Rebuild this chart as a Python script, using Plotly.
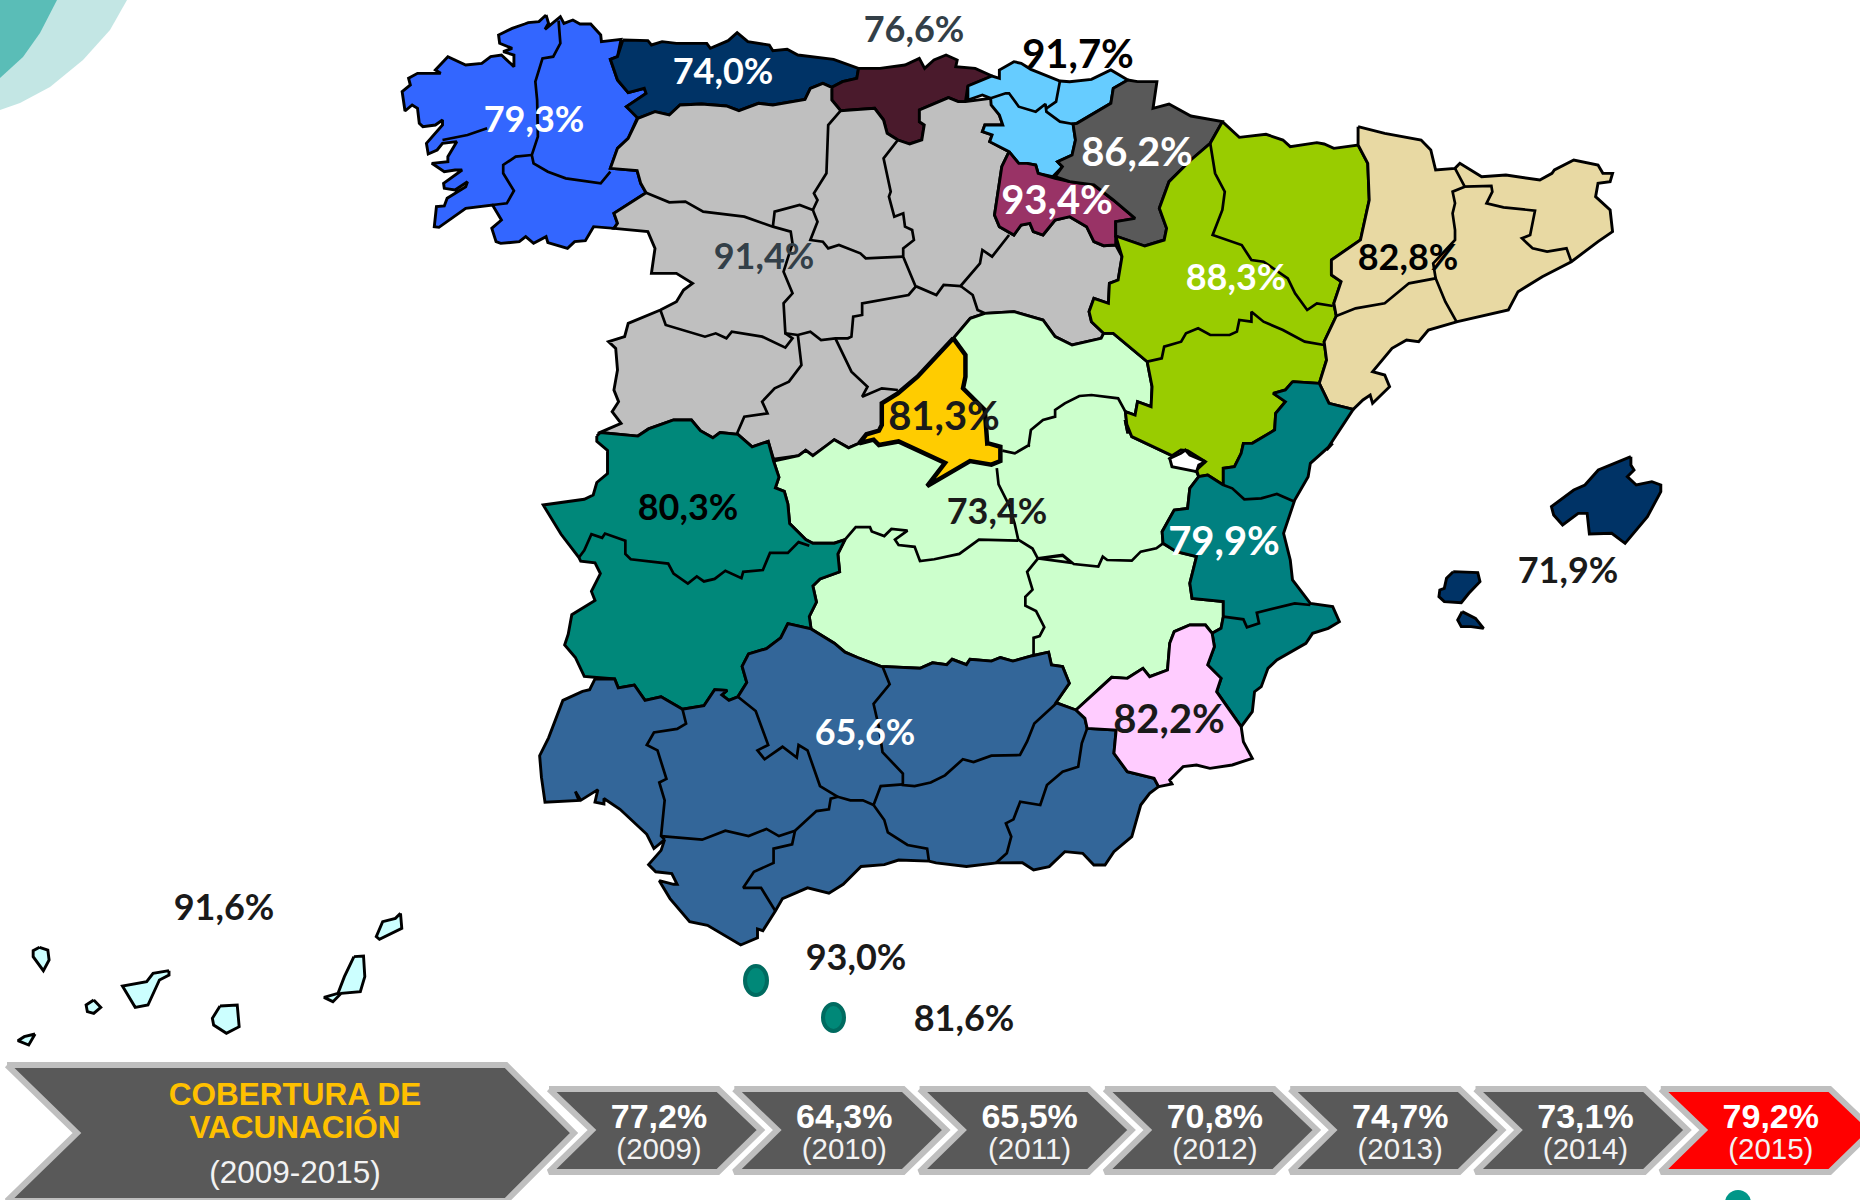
import plotly.graph_objects as go

# ---------- data ----------
YEARS = ["(2009)", "(2010)", "(2011)", "(2012)", "(2013)", "(2014)", "(2015)"]
NATIONAL = ["77,2%", "64,3%", "65,5%", "70,8%", "74,7%", "73,1%", "79,2%"]
REGION_NAMES = ["Galicia", "Asturias", "Cantabria", "País Vasco", "Navarra", "La Rioja", "Aragón", "Cataluña",
                "Castilla y León", "Madrid", "Castilla-La Mancha", "Extremadura", "C. Valenciana", "Baleares",
                "Andalucía", "Murcia", "Canarias", "Ceuta", "Melilla"]
REGION_VALUES = ["79,3%", "74,0%", "76,6%", "91,7%", "86,2%", "93,4%", "88,3%", "82,8%",
                 "91,4%", "81,3%", "73,4%", "80,3%", "79,9%", "71,9%",
                 "65,6%", "82,2%", "91,6%", "93,0%", "81,6%"]
LABEL_X = [534, 723, 914, 1078, 1137, 1057, 1236, 1408, 764, 944, 997, 688, 1224, 1568, 865, 1169, 224, 856, 964]
LABEL_Y = [123, 75, 33, 58, 156, 204, 281, 261, 260, 420, 515, 511, 545, 574, 736, 723, 911, 961, 1022]
LABEL_SIZES = [36, 36, 36, 40, 40, 40, 36, 36, 36, 40, 36, 36, 40, 36, 36, 40, 36, 36, 36]
LABEL_COLORS = ["white", "white", "#333F48", "black", "white", "white", "white", "black",
                "#333F48", "#1a1a1a", "#1a1a1a", "black", "white", "#1a1a1a",
                "white", "#1a1a1a", "#1a1a1a", "#1a1a1a", "#1a1a1a"]

def z1(p): return [(380 + x / 2.8, y / 3) for x, y in p]
def z2(p): return [(900 + x / 2.063, y / 3) for x, y in p]
def z3(p): return [(520 + x / 2.8, 420 + y / 2.8) for x, y in p]
def z4(p): return [(980 + x / 2.24, 420 + y / 3) for x, y in p]
def z5(p): return [(x / 1.568, 880 + y / 3) for x, y in p]

GALICIA = z1([(465,45),(472,70),(462,88),(505,50),(515,70),(540,60),(560,72),(590,72),(618,105),(620,125),(675,118),(665,170),(645,178),(665,240),(695,278),(740,265),(745,280),(690,320),(722,350),(695,415),(665,445),(645,505),(720,512),(730,550),(745,578),(690,615),(655,640),(665,670),(655,685),(598,680),(575,722),(545,725),(525,745),(470,728),(465,710),(430,730),(408,710),(390,725),(338,730),(325,725),(313,685),(340,660),(315,615),(240,625),(165,682),(152,680),(158,620),(180,618),(188,595),(240,560),(245,545),(210,570),(180,565),(178,550),(230,510),(210,510),(180,515),(145,490),(190,485),(190,470),(215,425),(175,430),(160,450),(135,462),(130,430),(175,375),(175,360),(155,375),(120,380),(110,370),(105,325),(90,315),(70,333),(62,275),(85,255),(80,235),(105,220),(170,220),(155,210),(190,170),(240,195),(285,190),(310,170),(340,165),(375,200),(375,165),(345,155),(370,145),(335,130),(332,105),(370,85),(405,72),(415,68),(445,65)])
GALICIA_LINES = [
    z1([(500,62),(505,130),(485,170),(455,175),(435,245),(440,300),(442,410),(425,465),(430,490),(470,515),(520,535),(618,550),(645,515)]),
    z1([(175,420),(245,405),(300,385)]),
    z1([(425,465),(380,470),(345,495),(345,520),(375,572),(355,610),(315,615)]),
]
ASTURIAS = z1([(680,120),(750,122),(760,135),(790,125),(830,130),(915,130),(925,145),(975,122),(1000,98),(1030,125),(1090,135),(1100,152),(1140,148),(1170,165),(1270,178),(1340,205),(1335,235),(1295,245),(1265,262),(1240,250),(1205,265),(1190,298),(1100,315),(1060,310),(1005,332),(970,318),(900,312),(840,315),(810,345),(770,335),(722,355),(690,320),(745,280),(740,265),(695,278),(665,240),(645,178),(665,170)])
CANTABRIA = z1([(1340,205),(1400,205),(1470,195),(1510,175),(1525,205)]) + z2([(70,180),(95,165),(118,180),(115,200),(155,205),(190,228),(140,258),(135,305),(120,305),(100,293),(40,330),(40,365),(50,375),(45,420),(20,432)]) + z1([(1450,420),(1420,400),(1410,360),(1385,325),(1290,332),(1265,300),(1265,262),(1295,245),(1335,235)])
BASQUE = z2([(140,258),(190,228),(205,235),(205,210),(235,185),(250,190),(270,208),(330,243),(350,245),(395,238),(435,210),(470,240),(440,265),(435,310),(400,340),(365,370),(357,372),(362,420),(355,465),(325,485),(335,500),(315,530),(285,520),(280,495),(262,490),(245,490),(225,455),(185,425),(190,405),(170,395),(175,375),(212,375),(205,345),(188,315),(187,295),(170,285),(140,300)])
BASQUE_LINES = [
    z2([(187,295),(218,280),(225,280),(245,320),(280,335),(300,312),(302,335),(330,365),(357,372)]),
    z2([(330,243),(328,260),(322,305),(302,325)]),
]
RIOJA = z2([(225,455),(245,490),(262,490),(280,495),(285,520),(320,535),(350,545),(400,555),(440,600),(485,655),(445,665),(445,735),(420,737),(400,725),(385,680),(350,650),(320,660),(295,705),(275,695),(268,670),(250,675),(235,705),(205,680),(195,645),(210,500)])
NAVARRA = z2([(470,240),(490,245),(530,245),(522,325),(555,312),(600,348),(665,365),(640,430),(600,480),(555,545),(535,625),(550,685),(545,720),(505,738),(445,708),(445,665),(485,655),(440,600),(400,555),(350,545),(320,530),(335,500),(325,485),(355,465),(362,420),(357,372),(365,370),(400,340),(435,310),(440,265)])
ARAGON = z2([(665,365),(700,412),(755,403),(790,420),(805,440),(860,428),(875,432),(895,445),(945,435),(965,490),(968,600),(950,720),(890,780),(890,825),(910,845),(895,910),(900,948),(875,1025),(880,1080),(865,1150),(810,1145),(795,1170),(770,1180),(795,1205),(775,1240)]) + z4([(660,30),(610,70),(590,70),(585,100),(570,140),(545,145),(545,195),(510,165),(490,170),(485,150),(505,125),(465,92),(450,90),(430,107),(340,50),(325,0)]) + z2([(470,1300),(465,1235),(485,1245),(490,1205),(518,1220),(520,1160),(510,1085),(440,1000),(420,1000),(395,965),(390,935),(400,895),(430,910),(432,850),(450,840),(458,770),(445,708),(505,738),(545,720),(550,685),(535,625),(555,545),(600,480),(640,430)])
ARAGON_LINES = [
    z2([(640,430),(650,520),(670,575),(665,630),(645,705),(705,735),(725,780),(750,785),(800,835),(815,880),(840,930),(860,910),(893,918)]),
    z2([(510,1085),(540,1075),(545,1040),(580,1025),(590,1000),(615,985),(640,1005),(680,1005),(695,995),(700,960),(725,965),(725,935),(750,965),(790,990),(835,1025),(875,1035)]),
]
ADEMUZ = z4([(425,115),(450,100),(460,90),(470,105),(505,125),(490,135),(485,155),(430,140)])
CATALONIA = z2([(945,380),(1000,400),(1075,420),(1095,450),(1105,510),(1145,505),(1155,490),(1200,530),(1250,525),(1320,540),(1345,520),(1350,510),(1390,480),(1440,495),(1450,520),(1470,520),(1465,545),(1440,550),(1435,590),(1465,630),(1470,695),(1455,710),(1440,725),(1385,785),(1325,830),(1275,875),(1255,930),(1150,965),(1090,990),(1070,1025),(1045,1020),(1015,1045),(975,1115),(1000,1125),(1010,1160),(975,1210),(970,1185),(955,1200),(935,1228),(885,1210),(865,1150),(880,1080),(875,1025),(900,948),(895,910),(910,845),(890,825),(890,780),(950,720),(968,600),(965,490),(945,435)])
CATALONIA_LINES = [
    z2([(1165,560),(1140,575),(1145,610),(1140,640),(1145,690),(1145,720),(1100,790),(1105,835)]),
    z2([(900,948),(940,925),(1000,910),(1050,850),(1105,835),(1125,905),(1148,965)]),
    z2([(1145,505),(1165,560),(1220,558),(1222,575),(1210,610),(1245,622),(1310,632),(1300,705),(1283,715),(1305,745),(1335,755),(1375,745),(1385,785)]),
]
CYL = z1([(722,355),(770,335),(810,345),(840,315),(900,312),(970,318),(1005,332),(1060,310),(1100,315),(1190,298),(1205,265),(1240,250),(1265,262),(1265,300),(1290,332),(1385,325),(1410,360),(1420,400),(1450,420)]) + z2([(20,432),(45,420),(50,375),(40,365),(40,330),(100,293),(120,305),(135,305),(187,295),(205,345),(212,375),(175,375),(170,395),(190,405),(185,425),(225,455),(210,500),(195,645),(205,680),(235,705),(250,675),(268,670),(275,695),(295,705),(320,660),(350,650),(385,680),(400,725),(420,737),(445,735),(458,770),(450,840),(432,850),(430,910),(400,895),(390,935),(395,965),(420,1000),(415,1015),(355,1035),(320,1010),(295,960),(235,935),(175,940),(145,955),(110,1015)]) + z1([(1505,1130),(1450,1180),(1405,1210),(1405,1275)]) + z3([(1005,30),(970,40),(950,65),(920,78),(880,55),(855,75),(820,100),(800,85),(780,100),(710,110),(695,60),(650,75),(610,40),(560,35),(540,50),(505,30),(480,0),(430,0),(360,25),(330,45),(225,35)]) + z1([(610,1300),(675,1270),(650,1235),(668,1205),(655,1170),(665,1110),(660,1045),(640,1025),(685,1010),(695,970),(785,930),(795,925),(830,905),(850,870),(875,850),(830,820),(760,820),(770,745),(750,695),(655,685),(665,670),(655,640),(690,615),(745,578),(730,550),(720,512),(645,505),(665,445),(695,415)])
CYL_LINES = [
    z1([(745,578),(810,607),(855,605),(905,635),(1020,650),(1100,680),(1150,695),(1155,730),(1130,815),(1155,880),(1130,910),(1135,1000),(1170,1005),(1205,995),(1235,1020),(1275,1015),(1310,1015),(1320,1010),(1325,950),(1350,945),(1350,910),(1400,900),(1480,885),(1500,860)]),
    z1([(1100,680),(1105,635),(1175,615),(1212,630),(1225,665),(1205,720),(1240,725),(1255,745),(1285,735),(1345,760),(1360,775),(1465,770)]),
    z1([(1290,332),(1255,375),(1250,520),(1215,580),(1225,600),(1212,630)]),
    z1([(1450,420),(1410,475),(1430,575),(1425,590),(1440,650),(1465,640),(1470,680),(1490,690),(1495,720),(1465,745),(1465,770),(1500,860)]) + z2([(35,860),(75,885),(90,855),(125,858),(165,790),(170,750),(190,770),(225,705)]),
    z2([(125,858),(150,885),(160,930),(175,940)]),
    z1([(785,930),(800,975),(910,1010),(940,1000),(970,1015),(985,995),(1070,1010),(1135,1043),(1155,1015),(1135,1000)]),
    z1([(1170,1005),(1180,1095),(1145,1145),(1105,1165),(1070,1205),(1085,1240),(1020,1250),(1000,1300)]),
    z1([(1275,1015),(1320,1115),(1365,1160),(1350,1190),(1405,1165),(1450,1170)]),
]
MADRID = z2([(110,1015),(135,1065),(135,1130),(130,1165),(175,1230),(180,1330)]) + z3([(1310,65),(1345,75),(1345,115),(1320,125),(1260,115),(1200,150),(1140,185),(1190,120),(1145,100),(1060,60),(1005,70),(990,55),(950,65),(970,40),(1005,30)]) + z1([(1405,1275),(1405,1210),(1450,1180),(1505,1130)])
CLM = z2([(175,940),(235,935),(295,960),(320,1010),(355,1035),(415,1015),(420,1000),(440,1000),(510,1085),(520,1160),(518,1220),(490,1205),(485,1245),(465,1235),(470,1300)]) + z4([(325,0),(340,50),(430,107),(425,115),(485,155),(490,170),(470,205),(465,265),(435,270),(408,335),(410,370),(440,395),(485,410),(470,490),(475,535),(545,545),(545,590),(540,625),(520,640),(505,615),(470,615),(435,635),(425,670),(420,750),(380,770),(365,745),(330,775),(295,772),(215,870),(170,848),(200,790),(185,740),(160,735)]) + z3([(1480,650),(1435,660),(1380,675),(1345,665),(1320,675),(1260,670),(1250,685),(1210,670),(1195,685),(1155,680),(1120,695),(1010,690),(945,665),(910,650),(880,625),(815,585),(810,550),(830,510),(820,465),(840,445),(895,425),(890,375),(910,335),(880,345),(820,345),(800,335),(755,290),(750,235),(740,200),(715,190),(725,160),(710,115),(780,100),(800,85),(820,100),(855,75),(880,55),(920,78),(950,65),(990,55),(1005,70),(1060,60),(1145,100),(1190,120),(1140,185),(1200,150),(1260,115),(1320,125),(1345,115),(1345,75),(1310,65)]) + z2([(180,1330),(175,1230),(130,1165),(135,1130),(135,1065),(110,1015),(145,955)])
CLM_LINES = [
    z3([(1335,135),(1340,180),(1370,240),(1385,290),(1395,335),(1435,360),(1450,388),(1520,380),(1545,400)]) + z4([(130,415),(185,405),(210,432),(265,440),(275,410),(285,420),(340,422),(360,395),(395,385),(410,370)]),
    z3([(910,335),(940,300),(980,300),(985,312),(1020,325),(1040,305),(1085,310),(1050,335),(1060,350),(1105,355),(1120,395),(1160,390),(1230,375),(1285,335),(1395,338)]),
    z3([(1450,388),(1420,425),(1435,475),(1415,495),(1415,520),(1445,535),(1468,580),(1455,605),(1438,610),(1438,660)]),
    z2([(465,1235),(450,1195),(395,1185),(370,1188),(340,1210),(320,1230),(320,1250),(295,1260),(270,1290),(265,1340)]) + z4([(110,75),(78,100),(50,92)]),
]
VALENCIA = z2([(810,1145),(865,1150),(885,1210),(935,1228),(880,1350)]) + z4([(790,70),(740,130),(735,170),(705,240),(680,340),(695,420),(700,480),(740,550),(790,560),(805,605),(780,625),(745,640),(730,670),(665,720),(645,745),(630,800),(615,815),(610,875),(590,910),(585,920),(530,815),(540,775),(510,735),(525,680),(520,640),(540,625),(545,590),(545,545),(475,535),(470,490),(485,410),(440,395),(410,370),(408,335),(435,270),(465,265),(470,205),(490,170),(510,165),(545,195),(545,145),(570,140),(585,100),(590,70),(610,70),(660,30)]) + z2([(775,1240),(795,1205),(770,1180),(795,1170)])
VALENCIA_LINES = [
    z4([(545,195),(565,205),(592,238),(630,235),(665,222),(705,245)]),
    z4([(545,590),(590,598),(598,622),(625,610),(620,578),(705,550),(740,555)]),
]
MURCIA = z4([(215,870),(295,772),(330,775),(365,745),(380,770),(420,750),(425,670),(435,635),(470,615),(505,615),(520,640),(525,680),(510,735),(540,775),(530,815),(585,920),(590,965),(610,1015),(565,1035),(515,1045),(485,1035),(455,1040),(425,1080),(430,1092),(400,1100),(390,1075),(330,1055),(300,1000),(305,930),(240,925),(235,895)])
ANDALUCIA = z4([(215,870),(235,895),(240,925),(305,930),(300,1000),(330,1055),(390,1075),(400,1100),(380,1120),(360,1155),(340,1250),(300,1295),(280,1335),(255,1335),(230,1300),(190,1295),(155,1340),(120,1350),(95,1328),(40,1330)]) + z3([(1335,1240),(1250,1250),(1165,1240),(1145,1235),(1060,1232),(1020,1245),(955,1250),(905,1300),(865,1325),(805,1310),(735,1340),(715,1375),(680,1430),(665,1425),(665,1450),(618,1470),(525,1415),(475,1405),(420,1340),(390,1290),(430,1300),(440,1300),(425,1270),(380,1265),(360,1245),(395,1205),(405,1175),(375,1200),(355,1160),(280,1090),(235,1060),(235,1075),(210,1070),(218,1035),(170,1065),(155,1040),(165,1065),(70,1070),(60,1000),(55,940),(80,890),(120,785),(175,760),(195,755),(210,725),(265,725),(275,750),(320,742),(350,785),(395,775),(455,810),(515,800),(545,755),(580,757),(565,770),(585,785),(610,775),(635,735),(622,690),(640,655),(690,640),(730,610),(750,570),(815,585),(880,625),(910,650),(945,665),(1010,690),(1120,695),(1155,680),(1195,685),(1210,670),(1250,685),(1260,670),(1320,675),(1345,665),(1380,675),(1435,660),(1480,650)]) + z4([(160,735),(185,740),(200,790),(170,848)])
ANDALUCIA_LINES = [
    z3([(455,810),(465,850),(440,865),(375,875),(355,910),(385,925),(410,1005),(390,1015),(405,1065),(395,1165),(405,1175)]),
    z3([(395,1165),(510,1175),(575,1150),(640,1165),(690,1145),(725,1165),(770,1150)]),
    z3([(610,775),(660,815),(695,910),(665,925),(685,950),(735,915),(775,945),(780,910),(805,925),(840,1025),(890,1055)]),
    z3([(770,1150),(830,1095),(865,1090),(870,1060),(890,1055),(925,1065),(960,1065),(990,1078)]),
    z3([(770,1150),(762,1188),(710,1200),(710,1240),(655,1265),(625,1310),(675,1310),(715,1375)]),
    z3([(1015,690),(1035,740),(990,795),(1005,860),(1015,930),(1072,990),(1072,1022),(1105,1025),(1150,1015),(1190,995),(1240,950),(1270,958),(1320,940),(1400,938),(1420,900),(1440,850),(1505,790)]),
    z3([(990,1078),(1010,1025),(1072,1020)]),
    z3([(990,1078),(1020,1120),(1030,1155),(1085,1190),(1140,1200),(1145,1235)]),
    z4([(240,925),(228,970),(220,1040),(185,1055),(150,1095),(135,1155),(90,1145),(75,1198),(58,1210),(70,1250),(60,1300),(35,1330)]),
]
EXTREMADURA = z3([(215,45),(225,35),(330,45),(360,25),(430,0),(480,0),(505,30),(540,50),(560,35),(610,40),(650,75),(695,60),(710,115),(725,160),(715,190),(740,200),(750,235),(755,290),(800,335),(820,345),(880,345),(910,335),(890,375),(895,425),(840,445),(820,465),(830,510),(810,550),(815,585),(750,570),(730,610),(690,640),(640,655),(622,690),(635,735),(610,775),(585,785),(565,770),(580,757),(545,755),(515,800),(455,810),(395,775),(350,785),(320,742),(275,750),(265,725),(180,718),(155,665),(125,630),(135,600),(145,545),(210,505),(200,480),(225,430),(210,400),(170,395),(165,385),(115,320),(65,238),(180,222),(205,210),(215,175),(245,150),(245,85),(215,60)])
EXTREMADURA_LINES = [
    z3([(165,385),(180,365),(200,320),(230,330),(238,318),(295,338),(295,375),(310,390),(415,402),(430,430),(470,458),(495,438),(515,452),(545,445),(575,422),(620,443),(625,425),(680,420),(700,372),(750,372),(780,342),(810,352)]),
]
MALLORCA = z4([(1458,110),(1458,135),(1465,150),(1450,170),(1470,195),(1505,185),(1525,195),(1525,215),(1495,290),(1445,370),(1415,340),(1365,342),(1360,280),(1340,280),(1305,315),(1285,285),(1280,260),(1330,210),(1355,195),(1385,150)])
IBIZA = z4([(1060,455),(1115,458),(1120,485),(1095,520),(1078,548),(1040,545),(1028,530),(1030,510),(1040,505),(1045,475)])
FORMENTERA = z4([(1080,575),(1110,595),(1128,625),(1100,620),(1078,620),(1070,600)])
CANARY = [
    z5([(628,100),(630,145),(595,178),(590,170),(600,125),(620,115)]),
    z5([(555,230),(570,228),(572,290),(565,335),(535,340),(522,365),(508,352),(530,340),(540,290)]),
    z5([(345,378),(372,375),(375,440),(355,460),(335,435),(333,415)]),
    z5([(265,272),(265,285),(250,300),(232,375),(212,382),(192,318),(230,305),(240,280)]),
    z5([(147,360),(158,382),(147,400),(137,395),(135,375)]),
    z5([(62,202),(75,210),(77,240),(68,272),(52,230),(52,212)]),
    z5([(55,462),(45,495),(28,482),(38,470)]),
]
DECOR_OUTER = [(0,0),(127,0),(110,30),(83,60),(50,87),(20,103),(0,110)]
DECOR_INNER = [(0,0),(57,0),(40,33),(23,57),(0,78)]

REGIONS = [
    (GALICIA, "#3366FF", GALICIA_LINES), (ASTURIAS, "#003366", []), (CANTABRIA, "#4A1A2C", []),
    (CYL, "#BFBFBF", CYL_LINES), (CLM, "#CCFFCC", CLM_LINES), (BASQUE, "#66CCFF", BASQUE_LINES),
    (RIOJA, "#993366", []), (NAVARRA, "#595959", []), (ARAGON, "#99CC00", ARAGON_LINES),
    (CATALONIA, "#E8D9A3", CATALONIA_LINES), (VALENCIA, "#008080", VALENCIA_LINES),
    (EXTREMADURA, "#00887A", EXTREMADURA_LINES), (ANDALUCIA, "#336699", ANDALUCIA_LINES), (MURCIA, "#FFCCFF", []),
    (MALLORCA, "#003366", []), (IBIZA, "#003366", []), (FORMENTERA, "#003366", []),
    (ADEMUZ, "#FFFFFF", []),
] + [(c, "#CCFFFF", []) for c in CANARY]

CHEVRON_STEP = 185.3
BIG_CHEVRON = [(7,1065),(506,1065),(574,1133),(506,1201),(7,1201),(77,1133)]
SMALL_CHEVRON = [(549,1089),(718,1089),(761,1130),(718,1172),(549,1172),(592,1130)]
CHEVRON_FILLS = ["#595959"] * 6 + ["#FF0000"]

fig = go.Figure()

def poly(pts, fill, lc="black", lw=2.9):
    xs = [p[0] for p in pts] + [pts[0][0]]
    ys = [p[1] for p in pts] + [pts[0][1]]
    fig.add_trace(go.Scatter(x=xs, y=ys, mode="lines", fill="toself", fillcolor=fill,
                             line=dict(color=lc, width=lw), hoverinfo="skip", showlegend=False))

def polyline(pts, lw=2.7):
    fig.add_trace(go.Scatter(x=[p[0] for p in pts], y=[p[1] for p in pts], mode="lines",
                             line=dict(color="black", width=lw), hoverinfo="skip", showlegend=False))

def text(x, y, s, size, color, family="Lato", bold=True):
    fig.add_trace(go.Scatter(x=[x], y=[y], mode="text", text=[f"<b>{s}</b>" if bold else s], textposition="middle center",
                             textfont=dict(family=family, size=size, color=color),
                             hoverinfo="skip", showlegend=False))

poly(DECOR_OUTER, "#C3E6E4", lc="rgba(0,0,0,0)", lw=0)
poly(DECOR_INNER, "#5ABDB7", lc="rgba(0,0,0,0)", lw=0)

for pts, color, _ in REGIONS:
    poly(pts, color)
for _, _, lines in REGIONS:
    for ln in lines:
        polyline(ln)
poly(MADRID, "#FFCC00", lw=4.5)

shapes = [
    dict(type="circle", xref="x", yref="y", x0=745, x1=767, y0=966, y1=995, fillcolor="#008878", line=dict(color="#006B60", width=4)),
    dict(type="circle", xref="x", yref="y", x0=823, x1=844, y0=1004, y1=1031, fillcolor="#008878", line=dict(color="#006B60", width=4)),
    dict(type="circle", xref="x", yref="y", x0=1725, x1=1751, y0=1190, y1=1216, fillcolor="#009688", line=dict(width=0)),
]

poly(BIG_CHEVRON, "#595959", lc="#BFBFBF", lw=6)
for k in range(len(YEARS)):
    poly([(x + CHEVRON_STEP * k, y) for x, y in SMALL_CHEVRON], CHEVRON_FILLS[k], lc="#BFBFBF", lw=6)
    cx = 659 + CHEVRON_STEP * k
    text(cx, 1119, NATIONAL[k], 34, "white", "Liberation Sans")
    text(cx, 1152, YEARS[k], 29.5, "#F2F2F2", "Liberation Sans", bold=False)
text(295, 1097, "COBERTURA DE", 31.5, "#FFC000", "Liberation Sans")
text(295, 1130, "VACUNACIÓN", 31.5, "#FFC000", "Liberation Sans")
text(295, 1175, "(2009-2015)", 31.5, "#F2F2F2", "Liberation Sans", bold=False)

for name, val, x, y, size, c in zip(REGION_NAMES, REGION_VALUES, LABEL_X, LABEL_Y, LABEL_SIZES, LABEL_COLORS):
    text(x, y, val, size, c)

fig.update_layout(
    width=1860, height=1200, margin=dict(l=0, r=0, t=0, b=0),
    paper_bgcolor="white", plot_bgcolor="white", showlegend=False, shapes=shapes,
    xaxis=dict(range=[0, 1860], visible=False, fixedrange=True),
    yaxis=dict(range=[1200, 0], visible=False, fixedrange=True),
)
fig.write_html("out.html", config={"displayModeBar": False},
               post_script="document.body.style.margin='0';document.body.style.overflow='hidden';")
